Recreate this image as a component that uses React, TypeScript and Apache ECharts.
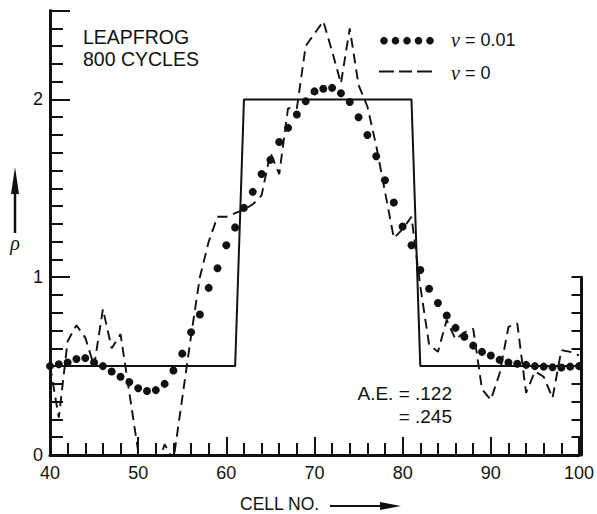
import React, { useEffect, useRef } from "react";
import * as echarts from "echarts";

// Cell numbers (x values)
const cells = [
  40, 41, 42, 43, 44, 45, 46, 47, 48, 49,
  50, 51, 52, 53, 54, 55, 56, 57, 58, 59,
  60, 61, 62, 63, 64, 65, 66, 67, 68, 69,
  70, 71, 72, 73, 74, 75, 76, 77, 78, 79,
  80, 81, 82, 83, 84, 85, 86, 87, 88, 89,
  90, 91, 92, 93, 94, 95, 96, 97, 98, 99, 100,
];

// nu = 0.01 (dots)
const rhoNu001 = [
  0.5, 0.51, 0.52, 0.54, 0.545, 0.52, 0.5, 0.47, 0.44, 0.41,
  0.375, 0.36, 0.365, 0.4, 0.475, 0.57, 0.69, 0.79, 0.94, 1.05,
  1.18, 1.28, 1.39, 1.48, 1.58, 1.66, 1.76, 1.84, 1.915, 1.99,
  2.045, 2.06, 2.065, 2.035, 1.985, 1.9, 1.8, 1.68, 1.545, 1.42,
  1.285, 1.18, 1.04, 0.935, 0.855, 0.785, 0.715, 0.665, 0.615, 0.58,
  0.56, 0.535, 0.52, 0.513, 0.507, 0.5, 0.497, 0.494, 0.492, 0.497, 0.5,
];

// nu = 0 (dashed)
const rhoNu0 = [
  0.5, 0.21, 0.64, 0.73, 0.66, 0.5, 0.82, 0.6, 0.68, 0.35,
  0.02, -0.3, -0.09, 0.06, -0.03, 0.32, 0.67, 1.0, 1.2, 1.34,
  1.34, 1.36, 1.38, 1.41, 1.46, 1.7, 1.58, 1.95, 1.95, 2.3,
  2.37, 2.44, 2.27, 2.09, 2.4, 2.08, 1.96, 1.74, 1.48, 1.22,
  1.27, 1.34, 0.95, 0.62, 0.58, 0.76, 0.65, 0.69, 0.71, 0.37,
  0.31, 0.46, 0.72, 0.74, 0.35, 0.47, 0.44, 0.32, 0.59, 0.58, 0.56,
];

// exact solution (square pulse)
const exactX = [40, 61, 62, 81, 82, 100];
const exactY = [0.5, 0.5, 2, 2, 0.5, 0.5];

const INK = "#111";
const SANS = "'Liberation Sans', Arial, sans-serif";
const SERIF = "'Liberation Serif', 'Times New Roman', serif";

export default function App() {
  const ref = useRef<HTMLDivElement>(null);

  useEffect(() => {
    if (!ref.current) return;
    const chart = echarts.init(ref.current, undefined, { renderer: "svg" });

    const gridTop = 10.5;
    const gridBottom = 59;
    const plotH = 514 - gridTop - gridBottom;
    const unit = plotH / 2.5;

    const option: any = {
      animation: false,
      backgroundColor: "#fff",
      grid: [
        { left: 50, right: 15.5, top: gridTop, bottom: gridBottom },
        { left: 50, right: 15.5, top: 514 - gridBottom - unit, bottom: gridBottom },
      ],
      xAxis: [
        {
          gridIndex: 0,
          type: "value",
          position: "bottom",
          min: 40,
          max: 100,
          interval: 2,
          axisLine: { show: true, lineStyle: { color: INK, width: 3 } },
          axisTick: { show: true, inside: true, length: 12, lineStyle: { color: INK, width: 2 } },
          axisLabel: {
            show: true,
            margin: 9,
            color: INK,
            fontSize: 18,
            fontFamily: SANS,
            formatter: (v: number) => (Math.abs(v % 10) < 1e-6 ? String(v) : ""),
          },
          splitLine: { show: false },
        },
        {
          gridIndex: 0,
          type: "value",
          position: "bottom",
          min: 40,
          max: 100,
          interval: 10,
          axisLine: { show: false },
          axisTick: { show: true, inside: true, length: 18, lineStyle: { color: INK, width: 2 } },
          axisLabel: { show: false },
          splitLine: { show: false },
        },
        {
          gridIndex: 1,
          type: "value",
          min: 40,
          max: 100,
          show: false,
        },
      ],
      yAxis: [
        {
          gridIndex: 0,
          type: "value",
          position: "left",
          min: 0,
          max: 2.5,
          interval: 0.1,
          axisLine: { show: true, lineStyle: { color: INK, width: 3 } },
          axisTick: { show: true, inside: true, length: 13, lineStyle: { color: INK, width: 2 } },
          axisLabel: {
            show: true,
            margin: 7,
            color: INK,
            fontSize: 18,
            fontFamily: SANS,
            formatter: (v: number) =>
              Math.abs(v - Math.round(v)) < 1e-6 ? String(Math.round(v)) : "",
          },
          splitLine: { show: false },
        },
        {
          gridIndex: 0,
          type: "value",
          position: "left",
          min: 0,
          max: 2.5,
          interval: 1,
          axisLine: { show: false },
          axisTick: { show: true, inside: true, length: 20, lineStyle: { color: INK, width: 2 } },
          axisLabel: { show: false },
          splitLine: { show: false },
        },
        {
          gridIndex: 1,
          type: "value",
          position: "right",
          min: 0,
          max: 1,
          interval: 0.1,
          axisLine: { show: true, lineStyle: { color: INK, width: 3 } },
          axisTick: { show: true, inside: true, length: 10, lineStyle: { color: INK, width: 2 } },
          axisLabel: { show: false },
          splitLine: { show: false },
        },
      ],
      series: [
        {
          name: "exact",
          type: "line",
          xAxisIndex: 0,
          yAxisIndex: 0,
          data: exactX.map((x, i) => [x, exactY[i]]),
          symbol: "none",
          lineStyle: { color: INK, width: 2 },
          z: 3,
        },
        {
          name: "ν = 0",
          type: "line",
          xAxisIndex: 0,
          yAxisIndex: 0,
          data: cells.map((c, i) => [c, rhoNu0[i]]),
          symbol: "none",
          clip: true,
          lineStyle: { color: INK, width: 1.9, type: [10, 6] },
          z: 4,
        },
        {
          name: "ν = 0.01",
          type: "scatter",
          xAxisIndex: 0,
          yAxisIndex: 0,
          data: cells.map((c, i) => [c, rhoNu001[i]]),
          symbol: "circle",
          symbolSize: 8,
          itemStyle: { color: INK, opacity: 1 },
          z: 5,
        },
      ],
      graphic: [
        { type: "text", left: 83, top: 27, style: { text: "LEAPFROG", font: `19.5px ${SANS}`, fill: INK } },
        { type: "text", left: 83, top: 49, style: { text: "800 CYCLES", font: `19.5px ${SANS}`, fill: INK } },
        // legend dots
        ...[384, 395.5, 407, 418.5, 430].map((cx) => ({
          type: "circle",
          shape: { cx, cy: 40.7, r: 3.8 },
          style: { fill: INK },
        })),
        // legend dashes
        ...[[379, 394], [399, 412], [417, 432]].map(([a, b]) => ({
          type: "line",
          shape: { x1: a, y1: 71.5, x2: b, y2: 71.5 },
          style: { stroke: INK, lineWidth: 2 },
        })),
        {
          type: "text",
          x: 451,
          y: 40,
          style: {
            text: "{i|ν} = 0.01",
            font: `18px ${SANS}`,
            fill: INK,
            verticalAlign: "middle",
            rich: { i: { fontFamily: SERIF, fontStyle: "italic", fontSize: 20, fill: INK } },
          },
        },
        {
          type: "text",
          x: 451,
          y: 73,
          style: {
            text: "{i|ν} = 0",
            font: `18px ${SANS}`,
            fill: INK,
            verticalAlign: "middle",
            rich: { i: { fontFamily: SERIF, fontStyle: "italic", fontSize: 20, fill: INK } },
          },
        },
        // rho axis label with arrow
        {
          type: "text",
          x: 15,
          y: 243,
          style: {
            text: "ρ",
            font: `italic 20px ${SERIF}`,
            fill: INK,
            align: "center",
            verticalAlign: "middle",
          },
        },
        {
          type: "line",
          shape: { x1: 15, y1: 233, x2: 15, y2: 190 },
          style: { stroke: INK, lineWidth: 2.5 },
        },
        {
          type: "polygon",
          shape: { points: [[11, 194], [19, 194], [15, 167]] },
          style: { fill: INK },
        },
        // x axis title with arrow
        {
          type: "text",
          x: 240,
          y: 504,
          style: {
            text: "CELL NO.",
            font: `17.5px ${SANS}`,
            fill: INK,
            verticalAlign: "middle",
          },
        },
        {
          type: "line",
          shape: { x1: 330, y1: 506, x2: 384, y2: 506 },
          style: { stroke: INK, lineWidth: 2 },
        },
        {
          type: "polygon",
          shape: { points: [[380, 502], [380, 510], [401, 506]] },
          style: { fill: INK },
        },
        // A.E. annotation
        {
          type: "text",
          x: 452,
          y: 393,
          style: {
            text: "A.E. = .122",
            font: `19px ${SANS}`,
            fill: INK,
            align: "right",
            verticalAlign: "middle",
          },
        },
        {
          type: "text",
          x: 452,
          y: 416,
          style: {
            text: "= .245",
            font: `19px ${SANS}`,
            fill: INK,
            align: "right",
            verticalAlign: "middle",
          },
        },
      ],
    };

    chart.setOption(option);
    return () => chart.dispose();
  }, []);

  return (
    <div
      ref={ref}
      style={{ position: "fixed", left: 0, top: 0, width: 597, height: 514, background: "#fff" }}
    />
  );
}
